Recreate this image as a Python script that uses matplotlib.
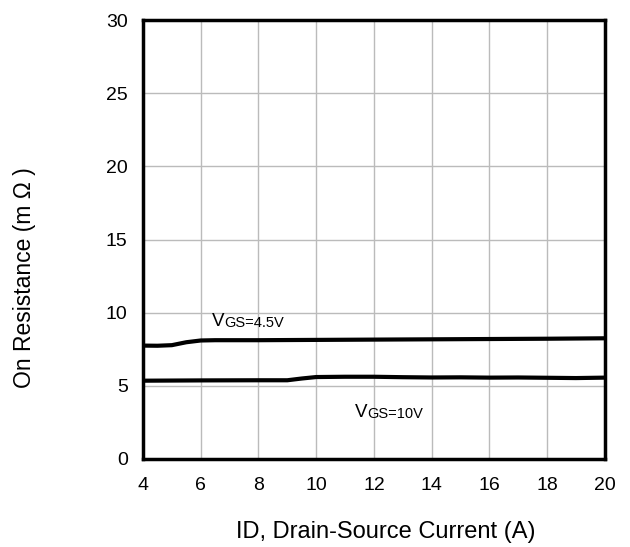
import matplotlib
matplotlib.use("Agg")
import matplotlib.pyplot as plt
import numpy as np

plt.rcParams['font.family'] = ['Liberation Sans', 'DejaVu Sans']
NARROW = ['Liberation Sans Narrow', 'Liberation Sans', 'DejaVu Sans']

x_45 = [4.0, 4.5, 5.0, 5.5, 6.0, 6.5, 8.0, 10.0, 12.0, 14.0, 16.0, 18.0, 20.0]
r_45 = [7.75, 7.74, 7.78, 7.98, 8.10, 8.12, 8.12, 8.14, 8.16, 8.18, 8.20, 8.22, 8.25]
x_10 = [4.0, 6.0, 8.0, 9.0, 9.5, 10.0, 11.0, 12.0, 13.0, 14.0, 15.0, 16.0, 17.0, 18.0, 19.0, 20.0]
r_10 = [5.35, 5.37, 5.38, 5.38, 5.50, 5.60, 5.62, 5.62, 5.59, 5.57, 5.58, 5.56, 5.57, 5.55, 5.53, 5.56]
xticks = [4, 6, 8, 10, 12, 14, 16, 18, 20]
yticks = [0, 5, 10, 15, 20, 25, 30]

fig = plt.figure(figsize=(6.3, 5.47), dpi=100)
ax = fig.add_axes([0.227, 0.161, 0.733, 0.802])
ax.plot(x_45, r_45, color='black', lw=3.0, solid_capstyle='butt', zorder=3)
ax.plot(x_10, r_10, color='black', lw=3.0, solid_capstyle='butt', zorder=3)
ax.set_xlim(4, 20)
ax.set_ylim(0, 30)
ax.set_xticks(xticks)
ax.set_yticks(yticks)
ax.grid(True, color='#bbbbbb', lw=1.0)
ax.set_axisbelow(True)
for s in ax.spines.values():
    s.set_linewidth(2.5)
ax.tick_params(length=0)
ax.tick_params(axis='x', pad=13)
ax.tick_params(axis='y', pad=11)
for lab in ax.get_xticklabels() + ax.get_yticklabels():
    lab.set_family(NARROW)
    lab.set_fontsize(14)

fig.text(386 / 630, 1 - 532 / 547, 'ID, Drain-Source Current (A)',
         fontsize=17, ha='center', va='center')
fig.text(25 / 630, 1 - 278 / 547, 'On Resistance (m \u03a9 )', fontsize=16.5,
         rotation=90, ha='center', va='center')

def vgs_label(x, y, val):
    t = ax.text(x, y, 'V', fontsize=13.5, ha='left', va='baseline', family=NARROW)
    ax.annotate('GS=' + val, xy=(1, 0), xycoords=t, fontsize=10.5, ha='left',
                va='bottom', family=NARROW)

vgs_label(6.38, 9.1, '4.5V')
vgs_label(11.33, 2.9, '10V')

fig.savefig('out.png', dpi=100)
